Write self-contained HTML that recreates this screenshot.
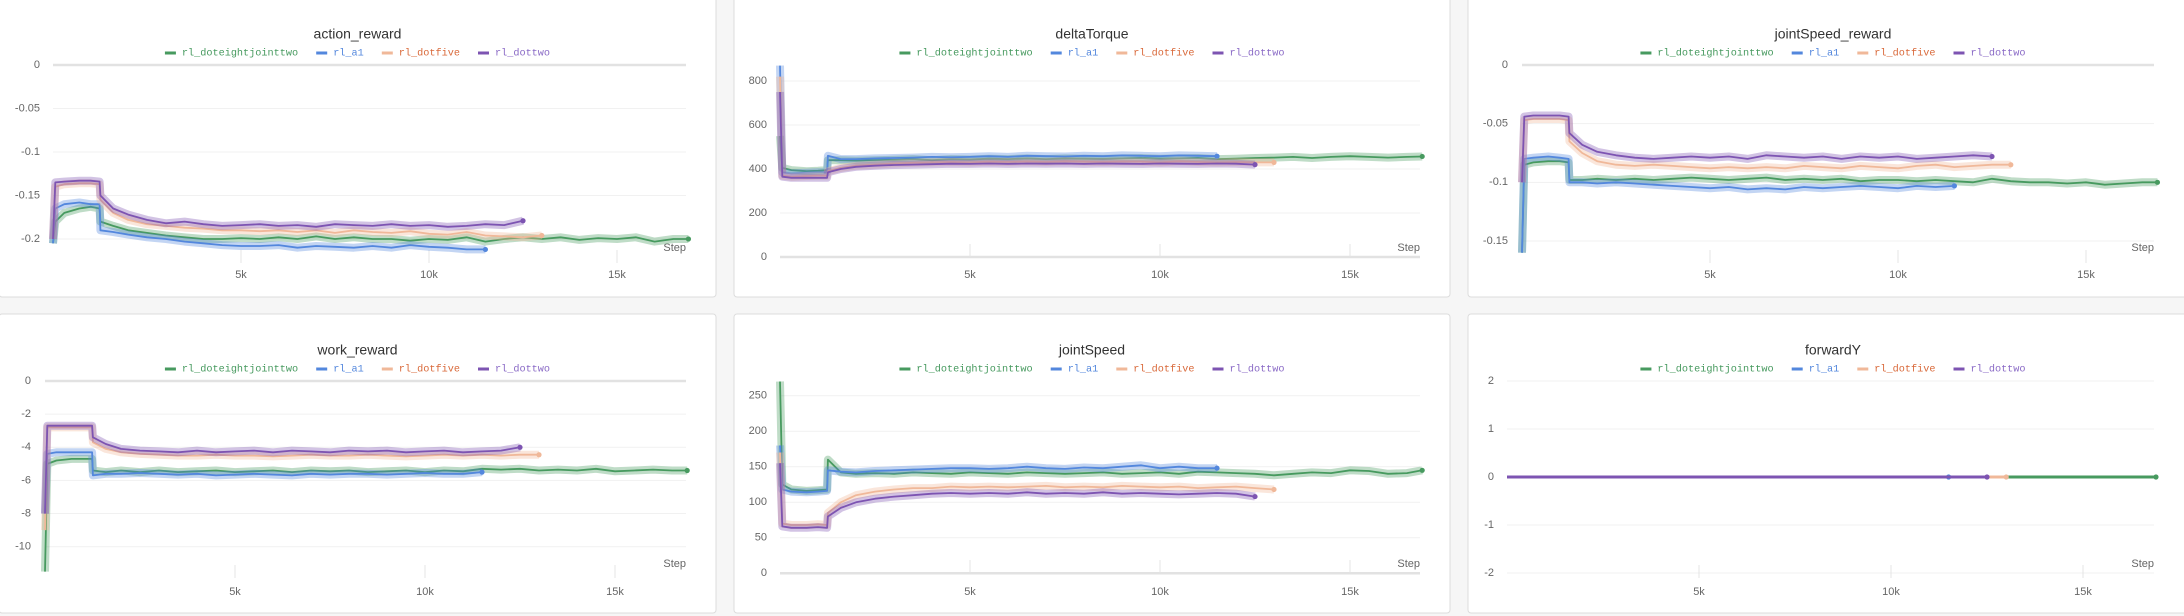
<!DOCTYPE html>
<html><head><meta charset="utf-8"><style>
html,body{margin:0;padding:0;background:#f6f6f6;width:2184px;height:616px;overflow:hidden}
svg{display:block}
.title{font-family:"Liberation Sans",sans-serif;font-size:14px;fill:#333}
.tick{font-family:"Liberation Sans",sans-serif;font-size:11px;fill:#666}
.leg{font-family:"Liberation Mono",monospace;font-size:10.2px}
</style></head><body>
<svg id="root" width="2184" height="616" xmlns="http://www.w3.org/2000/svg"></svg>
<script>
const steps=[0,60,300,700,1000,1240,1260,1600,2000,2500,3000,3500,4000,4500,5000,5500,6000,6500,7000,7500,8000,8500,9000,9500,10000,10500,11000,11500,12000,12500,13000,13500,14000,14500,15000,15500,16000,16500,16900];
const seriesNames=["rl_doteightjointtwo","rl_a1","rl_dotfive","rl_dottwo"];
const xTicks=[5000,10000,15000];
const xTickLabels=["5k","10k","15k"];

const actionGreen=[-0.205,-0.18,-0.17,-0.165,-0.163,-0.165,-0.18,-0.185,-0.19,-0.193,-0.196,-0.198,-0.2,-0.2,-0.199,-0.2,-0.198,-0.2,-0.197,-0.2,-0.198,-0.2,-0.2,-0.202,-0.2,-0.201,-0.198,-0.203,-0.2,-0.198,-0.2,-0.198,-0.201,-0.199,-0.2,-0.198,-0.203,-0.2,-0.2];
const actionBlue=[-0.205,-0.165,-0.16,-0.158,-0.16,-0.16,-0.19,-0.192,-0.195,-0.198,-0.2,-0.203,-0.205,-0.207,-0.208,-0.208,-0.207,-0.21,-0.208,-0.209,-0.21,-0.208,-0.21,-0.207,-0.209,-0.21,-0.212,-0.212];
const actionOrange=[-0.2,-0.14,-0.137,-0.136,-0.136,-0.137,-0.155,-0.17,-0.178,-0.183,-0.185,-0.187,-0.188,-0.19,-0.19,-0.191,-0.19,-0.192,-0.19,-0.193,-0.19,-0.192,-0.193,-0.191,-0.194,-0.195,-0.192,-0.196,-0.197,-0.198,-0.196];
const actionPurple=[-0.2,-0.135,-0.134,-0.133,-0.133,-0.134,-0.15,-0.165,-0.172,-0.178,-0.182,-0.18,-0.183,-0.185,-0.184,-0.183,-0.185,-0.184,-0.186,-0.183,-0.184,-0.185,-0.183,-0.185,-0.184,-0.186,-0.185,-0.183,-0.184,-0.179];
const actionYTicks=[0,-0.05,-0.1,-0.15,-0.2];
const actionYLabels=["0","-0.05","-0.1","-0.15","-0.2"];

const torqueGreen=[550,405,395,390,392,395,440,440,438,440,442,445,440,445,443,447,445,448,445,448,447,446,448,450,447,448,450,445,447,450,452,455,450,455,458,455,452,455,457];
const torqueBlue=[870,385,380,383,385,385,460,445,445,448,450,452,455,453,455,458,455,460,458,457,460,458,462,460,458,462,460,458];
const torqueOrange=[820,370,365,368,370,370,390,405,415,420,425,428,430,432,430,433,432,434,432,435,433,432,434,433,430,435,432,430,432,430,430];
const torquePurple=[750,365,360,360,360,360,385,400,410,415,418,420,422,424,423,425,423,425,424,425,423,425,424,423,425,424,423,425,424,420];
const torqueYTicks=[0,200,400,600,800];
const torqueYLabels=["0","200","400","600","800"];

const jsrGreen=[-0.16,-0.085,-0.083,-0.082,-0.082,-0.083,-0.098,-0.098,-0.097,-0.098,-0.097,-0.098,-0.097,-0.096,-0.097,-0.098,-0.097,-0.096,-0.098,-0.097,-0.098,-0.097,-0.099,-0.098,-0.098,-0.099,-0.098,-0.099,-0.1,-0.097,-0.099,-0.1,-0.1,-0.101,-0.1,-0.102,-0.101,-0.1,-0.1];
const jsrBlue=[-0.16,-0.08,-0.079,-0.078,-0.079,-0.08,-0.1,-0.1,-0.101,-0.1,-0.101,-0.102,-0.103,-0.104,-0.105,-0.104,-0.106,-0.105,-0.106,-0.104,-0.105,-0.104,-0.103,-0.104,-0.105,-0.103,-0.104,-0.103];
const jsrOrange=[-0.1,-0.047,-0.046,-0.046,-0.046,-0.047,-0.065,-0.075,-0.082,-0.085,-0.086,-0.085,-0.086,-0.087,-0.088,-0.087,-0.088,-0.087,-0.088,-0.086,-0.087,-0.088,-0.086,-0.087,-0.088,-0.086,-0.085,-0.087,-0.086,-0.085,-0.085];
const jsrPurple=[-0.1,-0.044,-0.043,-0.043,-0.043,-0.044,-0.058,-0.068,-0.074,-0.077,-0.079,-0.08,-0.079,-0.078,-0.079,-0.078,-0.08,-0.077,-0.078,-0.079,-0.078,-0.08,-0.078,-0.079,-0.078,-0.08,-0.079,-0.078,-0.077,-0.078];
const jsrYTicks=[0,-0.05,-0.1,-0.15];
const jsrYLabels=["0","-0.05","-0.1","-0.15"];

const workGreen=[-11.5,-5.0,-4.8,-4.7,-4.7,-4.7,-5.4,-5.5,-5.4,-5.5,-5.4,-5.5,-5.45,-5.4,-5.5,-5.45,-5.4,-5.5,-5.4,-5.45,-5.4,-5.5,-5.45,-5.4,-5.5,-5.4,-5.45,-5.3,-5.35,-5.3,-5.4,-5.35,-5.4,-5.3,-5.45,-5.4,-5.35,-5.4,-5.4];
const workBlue=[-8,-4.4,-4.3,-4.3,-4.3,-4.3,-5.7,-5.6,-5.6,-5.55,-5.6,-5.65,-5.6,-5.7,-5.65,-5.6,-5.65,-5.7,-5.6,-5.65,-5.6,-5.6,-5.65,-5.6,-5.55,-5.6,-5.6,-5.5];
const workOrange=[-9,-2.8,-2.8,-2.8,-2.8,-2.8,-3.7,-4.1,-4.3,-4.4,-4.45,-4.5,-4.5,-4.45,-4.5,-4.5,-4.55,-4.5,-4.45,-4.5,-4.5,-4.45,-4.5,-4.55,-4.5,-4.45,-4.5,-4.45,-4.5,-4.45,-4.45];
const workPurple=[-8,-2.7,-2.7,-2.7,-2.7,-2.7,-3.4,-3.8,-4.1,-4.2,-4.25,-4.3,-4.2,-4.3,-4.25,-4.2,-4.3,-4.2,-4.25,-4.3,-4.2,-4.25,-4.2,-4.3,-4.25,-4.2,-4.3,-4.25,-4.2,-4.0];
const workYTicks=[0,-2,-4,-6,-8,-10];
const workYLabels=["0","-2","-4","-6","-8","-10"];

const jsGreen=[270,125,118,116,117,118,160,142,140,141,140,142,141,140,142,141,140,142,141,140,141,142,140,141,142,140,143,142,141,140,138,140,142,141,145,144,140,141,145];
const jsBlue=[180,118,115,114,115,116,145,143,142,144,145,146,147,148,148,147,148,150,148,147,149,148,150,152,148,150,148,148];
const jsOrange=[170,70,68,68,69,68,85,100,110,115,118,120,120,122,121,122,121,122,123,121,122,121,123,122,121,122,120,121,122,120,118];
const jsPurple=[155,66,64,64,65,64,80,92,100,105,108,110,112,113,112,113,112,114,112,113,112,114,112,113,112,111,112,113,112,108];
const jsYTicks=[0,50,100,150,200,250];
const jsYLabels=["0","50","100","150","200","250"];

const fyGreen=[0,0,0,0,0,0,0,0,0,0,0,0,0,0,0,0,0,0,0,0,0,0,0,0,0,0,0,0,0,0,0,0,0,0,0,0,0,0,0];
const fyBlue=[0,0,0,0,0,0,0,0,0,0,0,0,0,0,0,0,0,0,0,0,0,0,0,0,0,0,0,0];
const fyOrange=[0,0,0,0,0,0,0,0,0,0,0,0,0,0,0,0,0,0,0,0,0,0,0,0,0,0,0,0,0,0,0];
const fyPurple=[0,0,0,0,0,0,0,0,0,0,0,0,0,0,0,0,0,0,0,0,0,0,0,0,0,0,0,0,0,0];
const fyYTicks=[-2,-1,0,1,2];
const fyYLabels=["-2","-1","0","1","2"];

const NS="http://www.w3.org/2000/svg";
const root=document.getElementById('root');
const colors=["#479a5f","#5387dd","#f0b899","#7d54b2"];
const textColors=["#479a5f","#5387dd","#d9693a","#8a6ac6"];
function mk(tag,attrs,parent){const e=document.createElementNS(NS,tag);for(const k in attrs)e.setAttribute(k,attrs[k]);(parent||root).appendChild(e);return e;}

function drawChart(c,series,yTicks,yLabels){
  const g=mk('g',{});
  
  
  const bg=mk('rect',{x:c.px,y:c.py,width:c.pw,height:c.ph,rx:3,fill:'#fff',stroke:'#dcdcdc','stroke-width':1},g);
  
  
  const cx=c.px+c.pw/2;
  const t=mk('text',{x:cx,y:c.titleY,'text-anchor':'middle','dominant-baseline':'middle','class':'title'},g);
  t.textContent=c.name;
  
  
  const widths=seriesNames.map(n=>11+6+n.length*6.12);
  const total=widths.reduce((a,b)=>a+b,0)+18*(seriesNames.length-1);
  let lx=cx-total/2;
  seriesNames.forEach((n,i)=>{
    const lg=mk('g',{},g);
    
    
    mk('rect',{x:lx,y:c.legY-1.5,width:11,height:3,fill:colors[i]},lg);
    const lt=mk('text',{x:lx+17,y:c.legY,'dominant-baseline':'middle','class':'leg',fill:textColors[i]},lg);
    lt.textContent=n;
    lx+=widths[i]+18;
  });
  const X=v=>c.x0+v/5000*c.per5k;
  const Y=v=>c.yA+(v-c.vA)*(c.yB-c.yA)/(c.vB-c.vA);
  yTicks.forEach((v,i)=>{
    const zero=(v===0&&c.thickZero);
    const gl=mk('line',{x1:c.left,x2:c.right,y1:Y(v),y2:Y(v),stroke:zero?'#e2e2e2':'#f1f1f1','stroke-width':zero?2.5:1},g);
    
    
    const tl=mk('text',{x:c.labelRight,y:Y(v),'text-anchor':'end','dominant-baseline':'middle','class':'tick'},g);
    tl.textContent=yLabels[i];
    
    
  });
  xTicks.forEach((v,i)=>{
    const tm=mk('line',{x1:X(v),x2:X(v),y1:c.bottom-13,y2:c.bottom,stroke:'#e4e4e4','stroke-width':1},g);
    
    
    const tl=mk('text',{x:X(v),y:c.xLabelY,'text-anchor':'middle','dominant-baseline':'middle','class':'tick'},g);
    tl.textContent=xTickLabels[i];
    
    
  });
  const st=mk('text',{x:c.right,y:c.stepY,'text-anchor':'end','dominant-baseline':'middle','class':'tick'},g);
  st.textContent='Step';
  
  
  series.forEach((vals,i)=>{
    const pts=vals.map((v,k)=>X(steps[k]).toFixed(1)+','+Y(v).toFixed(1)).join(' ');
    if(!c.flat){
      const band=mk('polyline',{points:pts,fill:'none',stroke:colors[i],'stroke-width':c.band,'stroke-opacity':0.35,'stroke-linejoin':'round'},g);
      
      
    }
    const ln=mk('polyline',{points:pts,fill:'none',stroke:colors[i],'stroke-width':c.flat?3:1.8,'stroke-linejoin':'round'},g);
    
    
    const last=vals.length-1;
    const dot=mk('circle',{cx:X(steps[last]),cy:Y(vals[last]),r:2.6,fill:colors[i]},g);
    
    
  });
}

drawChart({name:'action_reward',px:-1,py:-3,pw:717,ph:300,titleY:35,legY:53,x0:53,per5k:188,left:53,right:686,bottom:263,labelRight:40,xLabelY:275,stepY:248,vA:0,yA:65,vB:-0.2,yB:239,thickZero:true,band:8},
  [actionGreen,actionBlue,actionOrange,actionPurple],actionYTicks,actionYLabels);
drawChart({name:'deltaTorque',px:734,py:-3,pw:716,ph:300,titleY:35,legY:53,x0:780,per5k:190,left:780,right:1420,bottom:257,labelRight:767,xLabelY:275,stepY:248,vA:0,yA:257,vB:800,yB:81,thickZero:true,band:8},
  [torqueGreen,torqueBlue,torqueOrange,torquePurple],torqueYTicks,torqueYLabels);
drawChart({name:'jointSpeed_reward',px:1468,py:-3,pw:730,ph:300,titleY:35,legY:53,x0:1522,per5k:188,left:1522,right:2154,bottom:263,labelRight:1508,xLabelY:275,stepY:248,vA:0,yA:65,vB:-0.15,yB:241,thickZero:true,band:8},
  [jsrGreen,jsrBlue,jsrOrange,jsrPurple],jsrYTicks,jsrYLabels);
drawChart({name:'work_reward',px:-1,py:314,pw:717,ph:299,titleY:351,legY:369,x0:45,per5k:190,left:45,right:686,bottom:578,labelRight:31,xLabelY:592,stepY:564,vA:0,yA:381,vB:-10,yB:546.7,thickZero:true,band:8},
  [workGreen,workBlue,workOrange,workPurple],workYTicks,workYLabels);
drawChart({name:'jointSpeed',px:734,py:314,pw:716,ph:299,titleY:351,legY:369,x0:780,per5k:190,left:780,right:1420,bottom:573,labelRight:767,xLabelY:592,stepY:564,vA:0,yA:573.3,vB:250,yB:395.7,thickZero:true,band:8},
  [jsGreen,jsBlue,jsOrange,jsPurple],jsYTicks,jsYLabels);
drawChart({name:'forwardY',px:1468,py:314,pw:730,ph:299,titleY:351,legY:369,x0:1507,per5k:192,left:1507,right:2154,bottom:578,labelRight:1494,xLabelY:592,stepY:564,vA:2,yA:381,vB:-2,yB:573,thickZero:false,flat:true,band:0},
  [fyGreen,fyBlue,fyOrange,fyPurple],fyYTicks,fyYLabels);
</script>
</body></html>
